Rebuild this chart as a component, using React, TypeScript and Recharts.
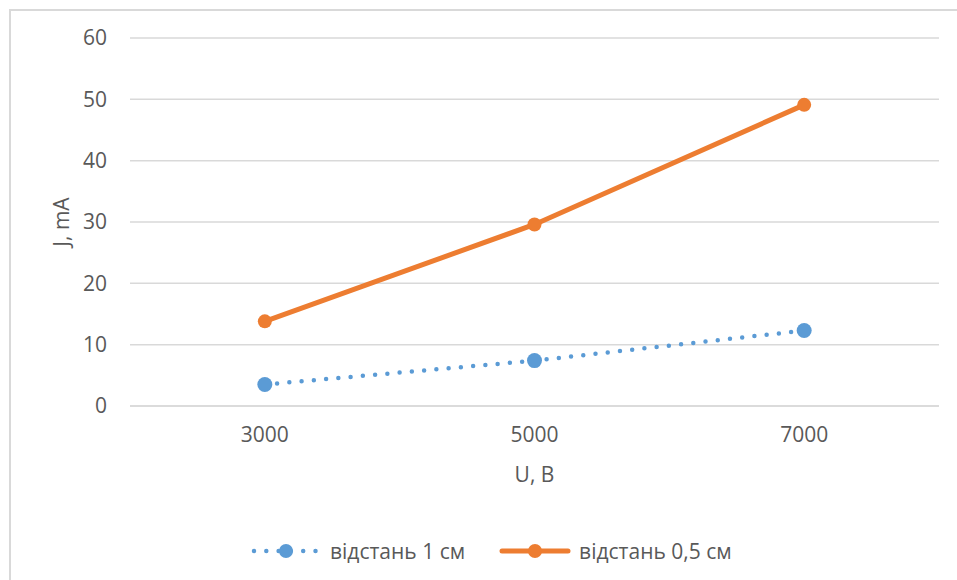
import React from 'react';
import { LineChart, Line, XAxis, YAxis, CartesianGrid } from 'recharts';

const voltages = ['3000', '5000', '7000'];
const dist1cm = [3.5, 7.4, 12.3];
const dist05cm = [13.8, 29.6, 49.1];
const yTicks = [0, 10, 20, 30, 40, 50, 60];
const seriesNames = ['відстань 1 см', 'відстань 0,5 см'];

const BLUE = '#5B9BD5';
const ORANGE = '#ED7D31';
const TEXT = '#595959';
const FONT = '"Open Sans", "Noto Sans", sans-serif';

const data = voltages.map((u, i) => ({ u, a: dist1cm[i], b: dist05cm[i] }));

const LegendItem = ({ color, dotted, name }: any) => (
	<div style={{ display: 'flex', alignItems: 'center' }}>
		<svg width={72} height={20} style={{ display: 'block' }}>
			{dotted ? (
				<line x1={4} y1={10} x2={68} y2={10} stroke={color} strokeWidth={4.5}
					strokeDasharray="0 12.3" strokeLinecap="round" />
			) : (
				<line x1={3} y1={10} x2={69} y2={10} stroke={color} strokeWidth={5} strokeLinecap="round" />
			)}
			<circle cx={36} cy={10} r={7} fill={color} />
		</svg>
		<span style={{ marginLeft: 8, fontSize: 21, color: TEXT, fontFamily: FONT }}>{name}</span>
	</div>
);

export default function App() {
	return (
		<div style={{ position: 'absolute', left: 0, top: 0, width: 957, height: 580, overflow: 'hidden', background: '#fff' }}>
			<div style={{ position: 'absolute', left: 9, top: 9, width: 1200, height: 1200, border: '2px solid #d9d9d9' }} />
			<div style={{ position: 'absolute', left: 0, top: 0 }}>
				<LineChart
					width={957}
					height={580}
					data={data}
					margin={{ top: 38, right: 18, left: 0, bottom: 36 }}
				>
					<CartesianGrid vertical={false} stroke="#d9d9d9" strokeWidth={1.5} />
					<XAxis
						dataKey="u"
						scale="band"
						height={138}
						axisLine={{ stroke: '#d9d9d9', strokeWidth: 1.5 }}
						tickLine={false}
						tickMargin={15}
						tick={{ fill: TEXT, fontSize: 21, fontFamily: FONT }}
						label={{ value: 'U, B', position: 'center', fill: TEXT, fontSize: 21, fontFamily: FONT }}
					/>
					<YAxis
						width={130}
						domain={[0, 60]}
						ticks={yTicks}
						axisLine={false}
						tickLine={false}
						tickMargin={17}
						tick={{ fill: TEXT, fontSize: 21, fontFamily: FONT }}
						label={{ value: 'J, mA', angle: -90, position: 'center', dx: -3, fill: TEXT, fontSize: 21, fontFamily: FONT }}
					/>
					<Line
						dataKey="a"
						name={seriesNames[0]}
						stroke={BLUE}
						strokeWidth={4.5}
						strokeDasharray="0 12.3"
						strokeLinecap="round"
						dot={{ r: 7.5, fill: BLUE, stroke: 'none' }}
						isAnimationActive={false}
					/>
					<Line
						dataKey="b"
						name={seriesNames[1]}
						stroke={ORANGE}
						strokeWidth={5}
						strokeLinecap="round"
						dot={{ r: 7, fill: ORANGE, stroke: 'none' }}
						isAnimationActive={false}
					/>
				</LineChart>
			</div>
			<div style={{ position: 'absolute', left: 250, top: 537, display: 'flex', gap: 34 }}>
				<LegendItem color={BLUE} dotted name={seriesNames[0]} />
				<LegendItem color={ORANGE} name={seriesNames[1]} />
			</div>
		</div>
	);
}
